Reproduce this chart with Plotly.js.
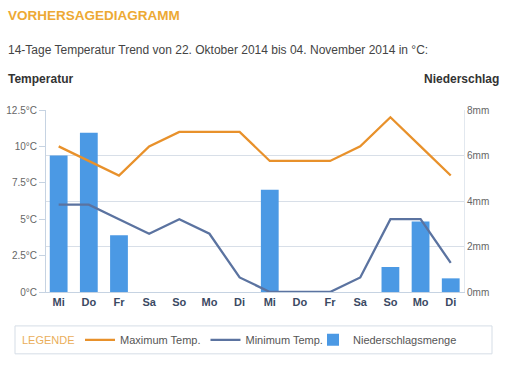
<!DOCTYPE html>
<html>
<head>
<meta charset="utf-8">
<script src="https://cdn.plot.ly/plotly-3.0.1.min.js"></script>
<style>
html,body{margin:0;padding:0;background:#fff;}
#chart{width:515px;height:369px;}
</style>
</head>
<body>
<div id="chart"></div>
<script>
const days = ['Mi','Do','Fr','Sa','So','Mo','Di','Mi','Do','Fr','Sa','So','Mo','Di'];
const maxTemp = [10, 9, 8, 10, 11, 11, 11, 9, 9, 9, 10, 12, 10, 8];
const minTemp = [6, 6, 5, 4, 5, 4, 1, 0, 0, 0, 1, 5, 5, 2];
const rain = [6.0, 7.0, 2.5, 0, 0, 0, 0, 4.5, 0, 0, 0, 1.1, 3.1, 0.6];
const tempTicks = [0, 2.5, 5, 7.5, 10, 12.5];
const tempTickText = ['0°C', '2.5°C', '5°C', '7.5°C', '10°C', '12.5°C'];
const rainTicks = [0, 2, 4, 6, 8];
const rainTickText = ['0mm', '2mm', '4mm', '6mm', '8mm'];

const idx = days.map((d, i) => i);

const W = 515, H = 369;
const L = 46, R = 464, T = 109.5, B = 292;
const px = x => (x - L) / (R - L);
const py = y => (B - y) / (B - T);

const font = 'Arial, "Liberation Sans", sans-serif';

const traces = [
  {x: idx, y: maxTemp, type: 'scatter', mode: 'lines', name: 'Maximum Temp.', yaxis: 'y2',
   line: {color: '#e8912b', width: 2.3}, hoverinfo: 'skip', legend: 'legend'},
  {x: idx, y: minTemp, type: 'scatter', mode: 'lines', name: 'Minimum Temp.', yaxis: 'y2',
   line: {color: '#5b73a0', width: 2.3}, hoverinfo: 'skip', legend: 'legend'},
  {x: idx, y: rain, type: 'bar', name: 'Niederschlagsmenge', yaxis: 'y',
   marker: {color: '#4b99e4', line: {width: 0}}, width: 0.59, hoverinfo: 'skip', legend: 'legend2'}
];

const legendBase = {orientation: 'h', xanchor: 'left', yanchor: 'middle',
  font: {family: font, size: 11, color: '#555'}, traceorder: 'normal',
  bgcolor: 'rgba(0,0,0,0)', itemwidth: 30};

const layout = {
  width: W, height: H,
  margin: {l: L, r: W - R, t: T, b: H - B, pad: 0},
  paper_bgcolor: '#ffffff', plot_bgcolor: '#ffffff',
  font: {family: font, size: 11, color: '#555'},
  showlegend: true,
  legend: Object.assign({}, legendBase, {x: px(80), y: py(340)}),
  legend2: Object.assign({}, legendBase, {x: px(313), y: py(340)}),
  xaxis: {range: [-0.42, 13.44], tickvals: idx, ticktext: days, showgrid: false, zeroline: false,
    showline: true, linecolor: '#c6d3e2', linewidth: 1, ticks: '',
    tickfont: {family: font, size: 11, color: '#3b4a63', weight: 'bold'}, fixedrange: true},
  yaxis: {range: [0, 8], tickvals: rainTicks, ticktext: rainTickText, side: 'right',
    showgrid: true, gridcolor: '#d8dfe8', gridwidth: 1, zeroline: false,
    showline: true, linecolor: '#e2e8ef', ticks: '',
    tickfont: {family: font, size: 10, color: '#666'}, fixedrange: true},
  yaxis2: {range: [0, 12.5], tickvals: tempTicks, ticktext: tempTickText, overlaying: 'y', side: 'left',
    showgrid: false, zeroline: false, showline: true, linecolor: '#c6d3e2',
    ticks: 'outside', ticklen: 6, tickcolor: '#c6d3e2',
    tickfont: {family: font, size: 10, color: '#666'}, fixedrange: true},
  shapes: [
    {type: 'rect', xref: 'paper', yref: 'paper', x0: px(15), x1: px(492), y0: py(326), y1: py(354),
     line: {color: '#d5dde6', width: 1}, fillcolor: 'rgba(0,0,0,0)', layer: 'below'}
  ],
  annotations: [
    {text: '<b>VORHERSAGEDIAGRAMM</b>', xref: 'paper', yref: 'paper', x: px(6), y: py(15),
     xanchor: 'left', yanchor: 'middle', showarrow: false,
     font: {family: font, size: 13.5, color: '#eda934'}},
    {text: '14-Tage Temperatur Trend von 22. Oktober 2014 bis 04. November 2014 in °C:', xref: 'paper', yref: 'paper',
     x: px(6), y: py(49), xanchor: 'left', yanchor: 'middle', showarrow: false,
     font: {family: font, size: 12, color: '#444'}},
    {text: '<b>Temperatur</b>', xref: 'paper', yref: 'paper', x: px(6), y: py(78),
     xanchor: 'left', yanchor: 'middle', showarrow: false,
     font: {family: font, size: 12, color: '#333'}},
    {text: '<b>Niederschlag</b>', xref: 'paper', yref: 'paper', x: px(501), y: py(78),
     xanchor: 'right', yanchor: 'middle', showarrow: false,
     font: {family: font, size: 12, color: '#333'}},
    {text: 'LEGENDE', xref: 'paper', yref: 'paper', x: px(20), y: py(340),
     xanchor: 'left', yanchor: 'middle', showarrow: false,
     font: {family: font, size: 11, color: '#eaae5a'}}
  ]
};

Plotly.newPlot('chart', traces, layout, {displayModeBar: false, staticPlot: true});
</script>
</body>
</html>
